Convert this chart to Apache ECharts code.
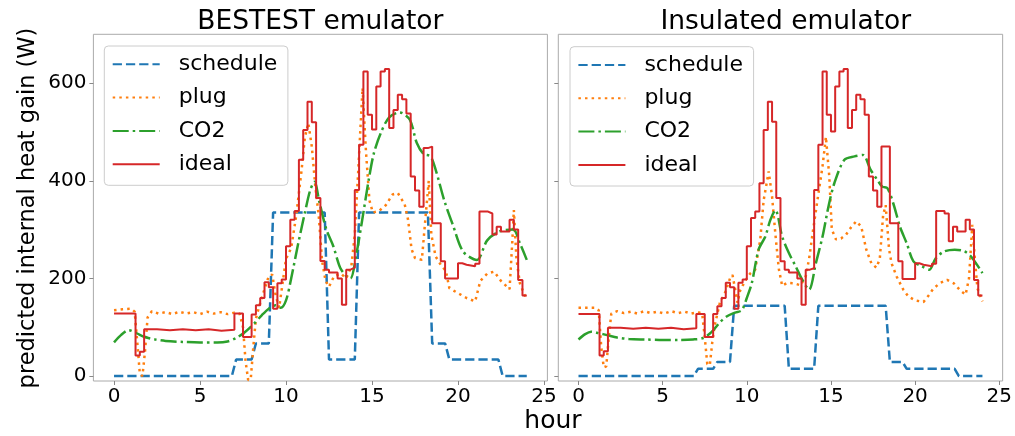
<!DOCTYPE html>
<html>
<head>
<meta charset="utf-8">
<script src="https://cdn.jsdelivr.net/npm/echarts@6/dist/echarts.min.js"></script>
<style>
html,body{margin:0;padding:0;background:#fff;}
#chart{width:1015px;height:436px;}
</style>
</head>
<body>
<div id="chart"></div>
<script>
// ---------- data ----------
const panelTitles = ['BESTEST emulator', 'Insulated emulator'];
const seriesNames = ['schedule', 'plug', 'CO2', 'ideal'];
const xTicks = [0, 5, 10, 15, 20, 25];
const yTicks = [0, 200, 400, 600];

// schedule (dashed)
const bestestScheduleT = [0, 6.85, 7.1, 8.0, 8.25, 9.0, 9.25, 12.25, 12.5, 14.0, 14.25, 18.25, 18.5, 19.25, 19.5, 22.35, 22.6, 24];
const bestestScheduleV = [0, 0, 34, 34, 67, 67, 335, 335, 34, 34, 335, 335, 67, 67, 34, 34, 0, 0];
const insulatedScheduleT = [0, 6.85, 7.1, 8.0, 8.25, 9.0, 9.25, 12.25, 12.5, 14.0, 14.25, 18.25, 18.5, 19.25, 19.5, 22.35, 22.6, 24];
const insulatedScheduleV = [0, 0, 15, 15, 29, 29, 144, 144, 15, 15, 144, 144, 29, 29, 15, 15, 0, 0];

// plug (dotted)
const bestestPlugT = [0, 0.5, 1.0, 1.2, 1.35, 1.5, 1.65, 1.8, 1.95, 2.2, 2.6, 3.0, 3.4, 3.8, 4.2, 4.6, 5.0, 5.4, 5.8, 6.2, 6.6, 7.0, 7.3, 7.5, 7.65, 7.8, 7.95, 8.1, 8.25, 8.5, 8.75, 9.0, 9.2, 9.4, 9.6, 9.8, 10.0, 10.3, 10.6, 10.9, 11.1, 11.3, 11.5, 11.7, 11.9, 12.1, 12.3, 12.5, 12.8, 13.2, 13.5, 13.8, 14.0, 14.2, 14.45, 14.65, 14.85, 15.05, 15.4, 15.8, 16.2, 16.5, 16.9, 17.1, 17.3, 17.5, 17.9, 18.1, 18.3, 18.45, 18.7, 19.0, 19.3, 19.5, 20.0, 20.5, 21.0, 21.3, 21.7, 22.1, 22.5, 23.0, 23.15, 23.25, 23.4, 23.6, 24.0];
const bestestPlugV = [135, 137, 138, 132, 70, 5, 0, 50, 120, 133, 128, 131, 127, 132, 128, 131, 127, 132, 128, 131, 127, 130, 128, 100, 30, -8, -6, 60, 118, 150, 178, 205, 208, 165, 140, 190, 240, 262, 330, 420, 490, 518, 470, 390, 330, 235, 195, 183, 205, 210, 200, 225, 290, 420, 590, 460, 360, 335, 338, 350, 372, 375, 352, 320, 260, 242, 238, 320, 400, 290, 245, 228, 215, 180, 170, 160, 153, 195, 210, 214, 195, 178, 270, 340, 240, 190, 155];
const insulatedPlugT = [0, 0.5, 1.0, 1.2, 1.35, 1.5, 1.65, 1.8, 1.95, 2.3, 2.7, 3.1, 3.5, 3.9, 4.3, 4.7, 5.1, 5.5, 5.9, 6.3, 6.7, 7.1, 7.35, 7.5, 7.65, 7.8, 7.95, 8.1, 8.4, 8.7, 9.0, 9.15, 9.35, 9.45, 9.6, 9.9, 10.2, 10.5, 10.8, 11.0, 11.3, 11.5, 11.7, 11.9, 12.1, 12.4, 12.8, 13.2, 13.5, 13.7, 13.9, 14.2, 14.5, 14.7, 14.9, 15.05, 15.3, 15.6, 15.9, 16.2, 16.5, 16.8, 17.1, 17.4, 17.7, 17.9, 18.1, 18.25, 18.45, 18.6, 18.9, 19.3, 19.6, 20.0, 20.5, 20.8, 21.1, 21.5, 21.9, 22.3, 22.7, 23.0, 23.2, 23.4, 23.55, 23.7, 24.0];
const insulatedPlugV = [140, 140, 140, 135, 60, 18, 20, 80, 128, 133, 129, 132, 128, 133, 129, 132, 128, 133, 129, 132, 128, 131, 128, 80, 25, 22, 70, 105, 150, 170, 200, 207, 170, 150, 175, 195, 210, 218, 280, 360, 419, 368, 290, 220, 185, 191, 190, 186, 204, 240, 290, 361, 430, 490, 409, 300, 280, 282, 290, 305, 317, 306, 259, 231, 222, 240, 330, 350, 260, 231, 204, 177, 163, 155, 152, 165, 180, 191, 197, 190, 175, 167, 200, 310, 240, 180, 153];

// CO2 (dash-dot)
const bestestCO2T = [0, 0.4, 0.85, 1.3, 1.8, 2.4, 3.0, 4.0, 5.0, 6.0, 6.6, 7.1, 7.6, 8.1, 8.6, 9.0, 9.4, 9.7, 10.0, 10.3, 10.7, 11.1, 11.4, 11.65, 11.95, 12.35, 12.75, 13.15, 13.5, 13.75, 14.1, 14.4, 14.8, 15.1, 15.5, 16.0, 16.6, 17.2, 17.6, 18.0, 18.4, 18.7, 19.2, 19.7, 20.3, 21.1, 21.7, 22.4, 23.2, 23.6, 24.0];
const bestestCO2V = [69, 84, 94, 88, 80, 75, 72, 70, 69, 69, 71, 78, 90, 106, 125, 138, 145, 140, 155, 200, 270, 335, 380, 398, 355, 300, 266, 222, 205, 200, 252, 313, 400, 455, 497, 530, 540, 525, 478, 455, 450, 423, 360, 310, 255, 238, 278, 296, 300, 272, 238];
const insulatedCO2T = [0, 0.4, 0.75, 1.2, 1.7, 2.3, 3.0, 4.0, 5.0, 6.0, 6.8, 7.4, 7.9, 8.4, 8.8, 9.3, 9.7, 10.0, 10.3, 10.7, 11.1, 11.4, 11.7, 12.1, 12.5, 12.9, 13.3, 13.7, 14.1, 14.5, 14.85, 15.2, 15.8, 16.4, 16.9, 17.35, 17.75, 18.05, 18.35, 18.7, 19.1, 19.5, 19.9, 20.4, 20.85, 21.2, 21.7, 22.35, 22.9, 23.3, 24.0];
const insulatedCO2V = [75, 86, 91, 88, 84, 79, 76, 75, 74, 74, 75, 78, 90, 110, 122, 130, 135, 160, 191, 259, 286, 320, 340, 286, 252, 225, 197, 177, 231, 286, 347, 395, 443, 450, 453, 423, 402, 388, 385, 354, 306, 272, 235, 225, 218, 240, 255, 259, 256, 246, 211];

// ideal (steps, value holds from its hour until the next)
const bestestIdealT = [0, 1.25, 1.5, 1.75, 2.5, 3.25, 4.0, 4.75, 5.5, 6.25, 7.0, 7.5, 8.0, 8.25, 8.5, 8.75, 9.0, 9.25, 9.5, 9.75, 10.0, 10.25, 10.5, 10.75, 11.0, 11.25, 11.5, 11.75, 12.0, 12.25, 12.5, 13.0, 13.25, 13.5, 13.75, 14.0, 14.25, 14.5, 14.75, 15.0, 15.25, 15.5, 15.75, 16.0, 16.25, 16.5, 16.75, 17.0, 17.25, 17.5, 17.75, 18.0, 18.25, 18.5, 19.0, 19.25, 20.0, 20.25, 20.5, 21.0, 21.25, 21.75, 22.0, 22.25, 22.5, 23.0, 23.25, 23.5, 23.75, 24.0];
const bestestIdealV = [128, 42, 50, 96, 94, 96, 94, 96, 93, 95, 128, 80, 126, 145, 160, 192, 182, 138, 190, 198, 266, 320, 338, 443, 504, 562, 520, 365, 236, 218, 212, 200, 146, 218, 222, 381, 474, 624, 535, 505, 593, 624, 629, 508, 545, 576, 567, 538, 409, 380, 347, 467, 470, 313, 235, 200, 231, 228, 225, 230, 337, 333, 290, 306, 296, 320, 300, 197, 165, 165];
const insulatedIdealT = [0, 1.25, 1.5, 1.75, 2.5, 3.25, 4.0, 4.75, 5.5, 6.25, 7.0, 7.5, 8.0, 8.25, 8.5, 8.75, 9.0, 9.25, 9.5, 9.75, 10.0, 10.25, 10.5, 10.75, 11.0, 11.25, 11.5, 11.75, 12.0, 12.25, 12.5, 13.0, 13.25, 13.5, 13.75, 14.0, 14.25, 14.5, 14.75, 15.0, 15.25, 15.5, 15.75, 16.0, 16.25, 16.5, 16.75, 17.0, 17.25, 17.5, 17.75, 18.0, 18.25, 18.5, 19.0, 19.25, 20.0, 20.25, 20.5, 21.0, 21.25, 21.75, 22.0, 22.25, 22.5, 23.0, 23.25, 23.5, 23.75, 24.0];
const insulatedIdealV = [127, 42, 51, 99, 97, 99, 97, 99, 96, 98, 127, 80, 127, 143, 160, 191, 182, 138, 191, 198, 266, 324, 337, 395, 504, 562, 521, 365, 235, 218, 212, 200, 146, 218, 221, 381, 474, 624, 535, 501, 593, 624, 629, 508, 545, 576, 567, 535, 409, 380, 347, 470, 470, 313, 235, 199, 231, 228, 225, 230, 338, 333, 276, 306, 296, 320, 300, 197, 165, 165];

// ---------- chart ----------
function pairs(T, V) { return T.map((t, i) => [t, V[i]]); }
const FONT = 'DejaVu Sans';
const panelData = [
  {schedule: pairs(bestestScheduleT, bestestScheduleV), plug: pairs(bestestPlugT, bestestPlugV),
   co2: pairs(bestestCO2T, bestestCO2V), ideal: pairs(bestestIdealT, bestestIdealV)},
  {schedule: pairs(insulatedScheduleT, insulatedScheduleV), plug: pairs(insulatedPlugT, insulatedPlugV),
   co2: pairs(insulatedCO2T, insulatedCO2V), ideal: pairs(insulatedIdealT, insulatedIdealV)}
];

const grids = [
  {left: 93.4, top: 34.3, width: 454, height: 346.7},
  {left: 558.3, top: 34.3, width: 455, height: 346.7}
];

const series = [];
panelData.forEach((d, p) => {
  series.push({name: seriesNames[0], type: 'line', xAxisIndex: p, yAxisIndex: p, symbol: 'none',
    data: d.schedule, lineStyle: {color: '#1f77b4', width: 2.5, type: [9.25, 4]}, itemStyle: {color: '#1f77b4'}});
  series.push({name: seriesNames[1], type: 'line', xAxisIndex: p, yAxisIndex: p, symbol: 'none',
    data: d.plug, lineStyle: {color: '#ff7f0e', width: 2.5, type: [2.5, 4.1]}, itemStyle: {color: '#ff7f0e'}});
  series.push({name: seriesNames[2], type: 'line', xAxisIndex: p, yAxisIndex: p, symbol: 'none', smooth: 0.3,
    data: d.co2, lineStyle: {color: '#2ca02c', width: 2.5, type: [16, 4, 2.5, 4]}, itemStyle: {color: '#2ca02c'}});
  series.push({name: seriesNames[3], type: 'line', xAxisIndex: p, yAxisIndex: p, symbol: 'none', step: 'end',
    data: d.ideal, lineStyle: {color: '#d62728', width: 2}, itemStyle: {color: '#d62728'}});
});

function xAxis(p) {
  return {gridIndex: p, type: 'value', min: -1.2, max: 25.2,
    axisLine: {show: false, onZero: false}, splitLine: {show: false},
    axisTick: {show: true, length: 4, lineStyle: {color: '#888'}, customValues: xTicks},
    axisLabel: {customValues: xTicks, fontSize: 20, color: '#000', fontFamily: FONT, margin: 6}};
}
function yAxis(p) {
  return {gridIndex: p, type: 'value', min: -10, max: 700,
    axisLine: {show: false, onZero: false}, splitLine: {show: false},
    axisTick: {show: true, length: 4, lineStyle: {color: '#888'}, customValues: yTicks},
    axisLabel: {show: p === 0, customValues: yTicks, fontSize: 20, color: '#000', fontFamily: FONT, margin: 7}};
}
function legend(left, top) {
  return {data: seriesNames, orient: 'vertical', left: left, top: top,
    itemWidth: 47, itemHeight: 14, itemGap: 7.3,
    padding: [5.3, 10.6, 8.1, 7.4],
    itemStyle: {opacity: 0},
    backgroundColor: 'rgba(255,255,255,0.85)', borderColor: '#cccccc', borderWidth: 1, borderRadius: 4,
    textStyle: {fontSize: 22, color: '#000', fontFamily: FONT, lineHeight: 26, padding: [0, 0, 0, 14]}};
}

const chart = echarts.init(document.getElementById('chart'), null, {renderer: 'canvas'});
chart.setOption({
  animation: false,
  backgroundColor: '#ffffff',
  grid: grids.map(g => Object.assign({show: true, borderColor: '#aaaaaa', borderWidth: 1, backgroundColor: 'transparent'}, g)),
  xAxis: [xAxis(0), xAxis(1)],
  yAxis: [yAxis(0), yAxis(1)],
  legend: [legend(104.3, 46), legend(570, 46.7)],
  graphic: [
    {type: 'text', x: grids[0].left + grids[0].width / 2, y: 22,
      style: {text: panelTitles[0], fontSize: 26.5, fontFamily: FONT, fill: '#000', align: 'center', verticalAlign: 'middle'}},
    {type: 'text', x: grids[1].left + grids[1].width / 2, y: 22,
      style: {text: panelTitles[1], fontSize: 26.5, fontFamily: FONT, fill: '#000', align: 'center', verticalAlign: 'middle'}},
    {type: 'text', x: 553, y: 421,
      style: {text: 'hour', fontSize: 25, fontFamily: FONT, fill: '#000', align: 'center', verticalAlign: 'middle'}},
    {type: 'text', x: 28.5, y: 208, rotation: Math.PI / 2,
      style: {text: 'predicted internal heat gain (W)', fontSize: 22.5, fontFamily: FONT, fill: '#000', align: 'center', verticalAlign: 'middle'}}
  ],
  series: series
});
</script>
</body>
</html>
